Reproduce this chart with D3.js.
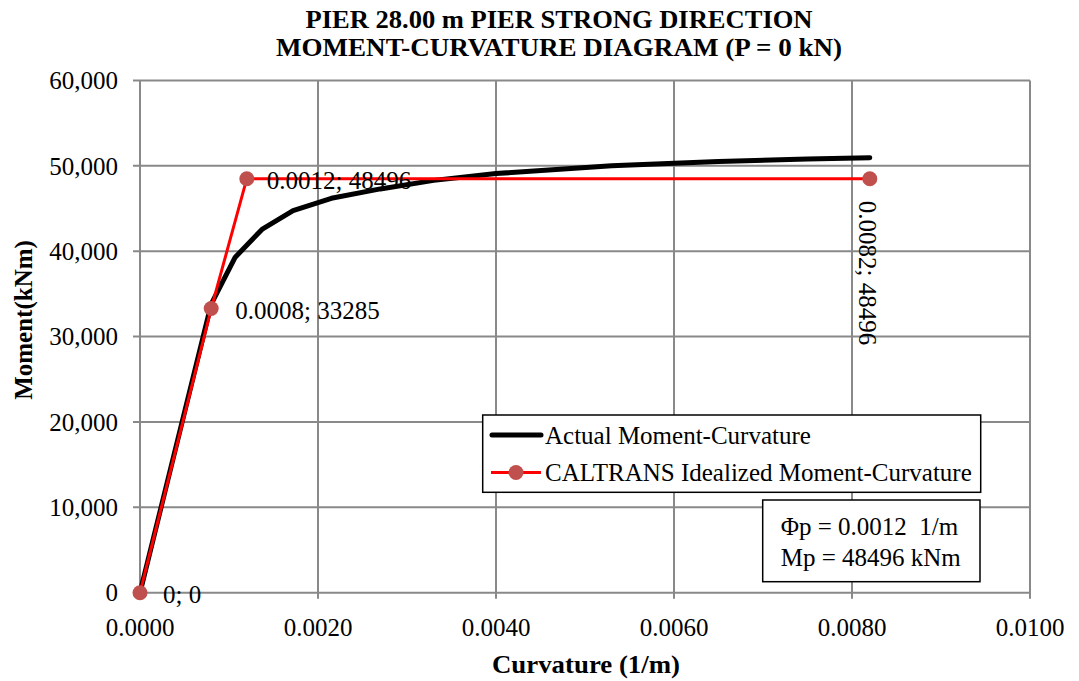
<!DOCTYPE html>
<html><head><meta charset="utf-8">
<script src="https://cdn.jsdelivr.net/npm/d3@7"></script>
<style>body{margin:0;background:#fff}svg{display:block}text{font-family:"Liberation Serif","Times New Roman",serif;fill:#000}</style>
</head><body>
<script>
const titleLines = ["PIER 28.00 m PIER STRONG DIRECTION", "MOMENT-CURVATURE DIAGRAM (P = 0 kN)"];
const xLabel = "Curvature (1/m)";
const yLabel = "Moment(kNm)";
const xTicks = [0, 0.002, 0.004, 0.006, 0.008, 0.010];
const yTicks = [0, 10000, 20000, 30000, 40000, 50000, 60000];
const actualCurv = [0, 0.00080, 0.00107, 0.00137, 0.00172, 0.00215, 0.0027, 0.0033, 0.0040, 0.0053, 0.0065, 0.0075, 0.0082];
const actualMom  = [0, 33800, 39300, 42550, 44750, 46200, 47300, 48300, 49100, 50000, 50500, 50800, 50950];
const idealCurv = [0, 0.0008, 0.0012, 0.0082];
const idealMom  = [0, 33285, 48496, 48496];
const idealLabels = ["0; 0", "0.0008; 33285", "0.0012; 48496", "0.0082; 48496"];
const legendNames = ["Actual Moment-Curvature", "CALTRANS Idealized Moment-Curvature"];
const infoLines = ["\u03A6p = 0.0012  1/m", "Mp = 48496 kNm"];

const W = 1079, H = 681;
const FS = "25px";
const svg = d3.select("body").append("svg").attr("width", W).attr("height", H);
const x = d3.scaleLinear().domain([0, 0.01]).range([140, 1030]);
const y = d3.scaleLinear().domain([0, 60000]).range([592.7, 80.5]);
const grid = "#898989";

// grid
svg.append("g").selectAll("line").data(xTicks).join("line")
  .attr("x1", d => x(d)).attr("x2", d => x(d)).attr("y1", y(60000)).attr("y2", y(0) + 6)
  .attr("stroke", grid).attr("stroke-width", 2);
svg.append("g").selectAll("line").data(yTicks).join("line")
  .attr("x1", x(0) - 7).attr("x2", x(0.01)).attr("y1", d => y(d)).attr("y2", d => y(d))
  .attr("stroke", grid).attr("stroke-width", 2);

// tick labels
svg.append("g").selectAll("text").data(xTicks).join("text")
  .attr("x", d => x(d)).attr("y", 627).attr("dy", "0.35em").attr("text-anchor", "middle")
  .style("font-size", FS).text(d => d3.format(".4f")(d));
svg.append("g").selectAll("text").data(yTicks).join("text")
  .attr("x", 118).attr("y", d => y(d)).attr("dy", "0.35em").attr("text-anchor", "end")
  .style("font-size", FS).text(d => d3.format(",")(d));

// titles
const titleLen = [507, 566];
svg.append("g").selectAll("text").data(titleLines).join("text")
  .attr("x", 559).attr("y", (d, i) => 27.5 + i * 28).attr("text-anchor", "middle")
  .attr("textLength", (d, i) => titleLen[i]).attr("lengthAdjust", "spacingAndGlyphs")
  .style("font-size", "26px").style("font-weight", "bold").text(d => d);
svg.append("text").attr("x", 586).attr("y", 664).attr("dy", "0.35em").attr("text-anchor", "middle")
  .attr("textLength", 188).attr("lengthAdjust", "spacingAndGlyphs")
  .style("font-size", FS).style("font-weight", "bold").text(xLabel);
svg.append("text").attr("transform", "translate(23,320) rotate(-90)").attr("dy", "0.35em").attr("text-anchor", "middle")
  .style("font-size", FS).style("font-weight", "bold").text(yLabel);

// series
const actual = actualCurv.map((c, i) => [c, actualMom[i]]);
const ideal = idealCurv.map((c, i) => [c, idealMom[i]]);
const line = d3.line().x(d => x(d[0])).y(d => y(d[1]));
svg.append("path").datum(actual).attr("d", line).attr("fill", "none")
  .attr("stroke", "#000").attr("stroke-width", 5).attr("stroke-linejoin", "round").attr("stroke-linecap", "round");
svg.append("path").datum(ideal).attr("d", line).attr("fill", "none")
  .attr("stroke", "#FF0000").attr("stroke-width", 3);
svg.append("g").selectAll("circle").data(ideal).join("circle")
  .attr("cx", d => x(d[0])).attr("cy", d => y(d[1])).attr("r", 7.5).attr("fill", "#C0504D");

// data labels
const lbl = svg.append("g").style("font-size", FS);
const lblDx = [23, 24, 20];
ideal.forEach((d, i) => {
  if (i < 3) {
    lbl.append("text").attr("x", x(d[0]) + lblDx[i]).attr("y", y(d[1]) + 2).attr("dy", "0.35em").text(idealLabels[i]);
  } else {
    lbl.append("text").attr("transform", `translate(${x(d[0]) - 2},${y(d[1]) + 22}) rotate(90)`)
      .attr("dy", "0.35em").text(idealLabels[i]);
  }
});

// legend
const lg = svg.append("g");
lg.append("rect").attr("x", 482.7).attr("y", 415).attr("width", 498).attr("height", 77.3)
  .attr("fill", "#fff").attr("stroke", "#000").attr("stroke-width", 1.5);
const rowsY = [435, 472.5];
lg.append("line").attr("x1", 492).attr("x2", 541).attr("y1", rowsY[0]).attr("y2", rowsY[0])
  .attr("stroke", "#000").attr("stroke-width", 5).attr("stroke-linecap", "round");
lg.append("line").attr("x1", 491).attr("x2", 541).attr("y1", rowsY[1]).attr("y2", rowsY[1])
  .attr("stroke", "#FF0000").attr("stroke-width", 3);
lg.append("circle").attr("cx", 516).attr("cy", rowsY[1]).attr("r", 7.5).attr("fill", "#C0504D");
lg.selectAll("text").data(legendNames).join("text")
  .attr("x", 545).attr("y", (d, i) => rowsY[i]).attr("dy", "0.35em")
  .style("font-size", FS).text(d => d);

// info box
const ib = svg.append("g");
ib.append("rect").attr("x", 762.7).attr("y", 500).attr("width", 217.3).attr("height", 81.7)
  .attr("fill", "#fff").attr("stroke", "#000").attr("stroke-width", 1.5);
ib.selectAll("text").data(infoLines).join("text")
  .attr("x", 780.7).attr("y", (d, i) => 526 + i * 31).attr("dy", "0.35em")
  .style("font-size", FS).attr("xml:space", "preserve").text(d => d);
</script>
</body></html>
